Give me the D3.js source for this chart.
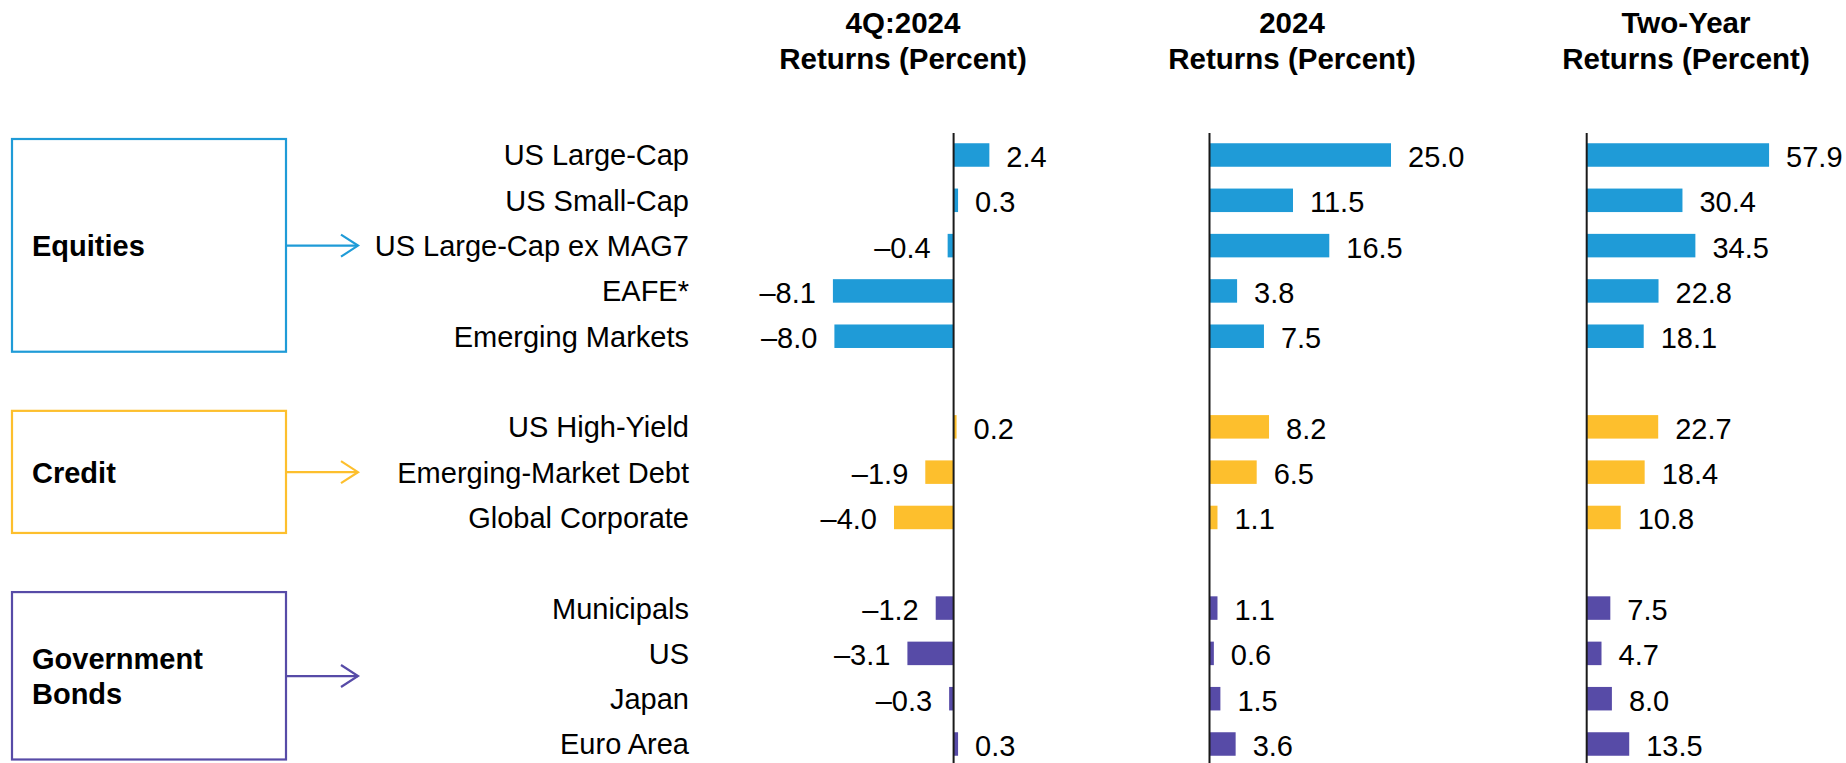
<!DOCTYPE html>
<html>
<head>
<meta charset="utf-8">
<script src="https://cdn.jsdelivr.net/npm/d3@7"></script>
<style>
  body { margin: 0; background: #fff; }
  svg text { font-family: Arial, "Liberation Sans", sans-serif; fill: #000; }
</style>
</head>
<body>
<div id="chart"></div>
<script>
// asset classes, in display order ("gap" = spacer row between groups)
const rows = [
    "US Large-Cap", "US Small-Cap", "US Large-Cap ex MAG7", "EAFE*", "Emerging Markets", "gap1",
    "US High-Yield", "Emerging-Market Debt", "Global Corporate", "gap2",
    "Municipals", "US", "Japan", "Euro Area"
];
const groupOf = [
    "eq", "eq", "eq", "eq", "eq", null,
    "cr", "cr", "cr", null,
    "gb", "gb", "gb", "gb"
];

// returns in percent
const q4Returns = [2.4, 0.3, -0.4, -8.1, -8.0, null, 0.2, -1.9, -4.0, null, -1.2, -3.1, -0.3, 0.3];
const yearReturns = [25.0, 11.5, 16.5, 3.8, 7.5, null, 8.2, 6.5, 1.1, null, 1.1, 0.6, 1.5, 3.6];
const twoYearReturns = [57.9, 30.4, 34.5, 22.8, 18.1, null, 22.7, 18.4, 10.8, null, 7.5, 4.7, 8.0, 13.5];

const panelTitles = [
    ["4Q:2024", "Returns (Percent)"],
    ["2024", "Returns (Percent)"],
    ["Two-Year", "Returns (Percent)"]
];

const groups = [
    {key: "eq", lines: ["Equities"], color: "#1f9bd7"},
    {key: "cr", lines: ["Credit"], color: "#fdbf2d"},
    {key: "gb", lines: ["Government", "Bonds"], color: "#574ba7"}
];

const width = 1846;
const height = 763;
const fontSize = 29;
const titleSize = 29.5;
const barH = 23.5;

const svg = d3.select("#chart")
    .append("svg")
    .attr("width", width)
    .attr("height", height);

const y = d3.scalePoint()
    .domain(rows)
    .range([155, 744]);

const colorOf = {};
groups.forEach(g => colorOf[g.key] = g.color);

// one linear scale per panel, zero lines at the axis positions
const panels = [
    {values: q4Returns, x: d3.scaleLinear().domain([-10, 4]).range([953.6 - 149, 953.6 + 59.6]), titleX: 903},
    {values: yearReturns, x: d3.scaleLinear().domain([0, 25]).range([1209.5, 1209.5 + 181.5]), titleX: 1292},
    {values: twoYearReturns, x: d3.scaleLinear().domain([0, 60]).range([1586.7, 1586.7 + 189]), titleX: 1686}
];

function fmt(v) {
    return (v < 0 ? "\u2013" : "") + Math.abs(v).toFixed(1);
}

panels.forEach((p, pi) => {
    const g = svg.append("g");
    const x0 = p.x(0);

    // titles
    const t = g.append("text")
        .attr("text-anchor", "middle")
        .attr("font-weight", "bold")
        .attr("font-size", titleSize + "px");
    panelTitles[pi].forEach((line, li) => {
        t.append("tspan")
            .attr("x", p.titleX)
            .attr("y", 33 + li * 35.5)
            .text(line);
    });

    // bars
    rows.forEach((r, i) => {
        const v = p.values[i];
        if (v === null) return;
        g.append("rect")
            .attr("x", Math.min(p.x(v), x0))
            .attr("y", y(r) - barH / 2)
            .attr("width", Math.abs(p.x(v) - x0))
            .attr("height", barH)
            .attr("fill", colorOf[groupOf[i]]);

        g.append("text")
            .attr("x", v >= 0 ? p.x(v) + 17 : p.x(v) - 17)
            .attr("y", y(r) + 1.5)
            .attr("dy", "0.36em")
            .attr("text-anchor", v >= 0 ? "start" : "end")
            .attr("font-size", fontSize + "px")
            .text(fmt(v));
    });

    // zero line
    g.append("line")
        .attr("x1", x0).attr("x2", x0)
        .attr("y1", 133).attr("y2", height)
        .attr("stroke", "#1a1a1a")
        .attr("stroke-width", 2);
});

// category labels
svg.append("g")
    .selectAll("text")
    .data(rows.filter(r => !r.startsWith("gap")))
    .enter()
    .append("text")
    .attr("x", 689)
    .attr("y", d => y(d))
    .attr("dy", "0.36em")
    .attr("text-anchor", "end")
    .attr("font-size", fontSize + "px")
    .text(d => d);

// group boxes with arrows
const boxLeft = 12;
const boxRight = 286;
groups.forEach(grp => {
    const members = rows.filter((r, i) => groupOf[i] === grp.key);
    const top = y(members[0]) - 16;
    const bottom = y(members[members.length - 1]) + 15.5;
    const mid = members.length % 2 === 1
        ? y(members[(members.length - 1) / 2])
        : (y(members[members.length / 2 - 1]) + y(members[members.length / 2])) / 2;

    const g = svg.append("g");
    g.append("rect")
        .attr("x", boxLeft)
        .attr("y", top)
        .attr("width", boxRight - boxLeft)
        .attr("height", bottom - top)
        .attr("fill", "none")
        .attr("stroke", grp.color)
        .attr("stroke-width", 2.2);

    g.append("line")
        .attr("x1", boxRight).attr("x2", 358)
        .attr("y1", mid).attr("y2", mid)
        .attr("stroke", grp.color)
        .attr("stroke-width", 2.2);

    g.append("path")
        .attr("d", `M${358 - 17},${mid - 11}L358,${mid}L${358 - 17},${mid + 11}`)
        .attr("fill", "none")
        .attr("stroke", grp.color)
        .attr("stroke-width", 2.2);

    const lineH = 35;
    const first = mid - (grp.lines.length - 1) * lineH / 2;
    grp.lines.forEach((line, li) => {
        g.append("text")
            .attr("x", 32)
            .attr("y", first + li * lineH)
            .attr("dy", "0.36em")
            .attr("font-weight", "bold")
            .attr("font-size", fontSize + "px")
            .text(line);
    });
});
</script>
</body>
</html>
